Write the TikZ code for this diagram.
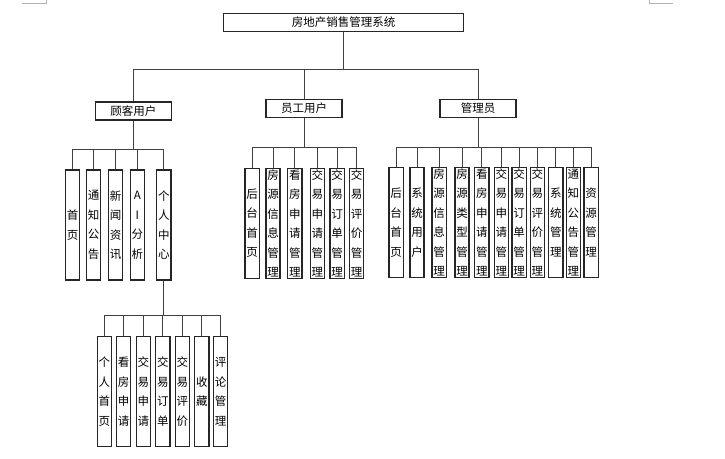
\documentclass[tikz,border=0pt]{standalone}
\usepackage{fontspec}
\setmainfont{Noto Sans CJK SC}
\usetikzlibrary{positioning}
\tikzset{
    base/.style = {
        draw=black!85, line width=1.3pt, inner sep=0pt,
        font=\fontsize{11.5}{19.5}\selectfont
    },
    % Boxes
    titlebox/.style = {base, minimum width=240pt, minimum height=18pt},
    rolebox/.style  = {base, minimum width=76pt, minimum height=18pt},
    leaf/.style     = {base, text width=12pt, align=center, minimum width=14.2pt, minimum height=110pt},
    % Lines
    link/.style     = {draw=black!75, line width=0.9pt},
    cropmark/.style = {draw=black!30, line width=0.6pt}
}
\begin{document}
\begin{tikzpicture}[x=1pt, y=-1pt]
    \useasboundingbox (0,0) rectangle (725,458);

    % Page corner marks
    \draw [cropmark] (22,3.3) -- (46,3.3) -- (46,0);
    \draw [cropmark] (649,0) -- (649,3.3) -- (673,3.3);

    % Top and roles
    \node (system) [titlebox] at (343.5,22.5) {房地产销售管理系统};
    \node (customer) [rolebox] at (133.3,111) {顾客用户};
    \node (staff) [rolebox] at (304,108.5) {员工用户};
    \node (admin) [rolebox] at (478,108.5) {管理员};

    % Customer functions
    \node (c_home) [leaf] at (72.5,225) {首\\页};
    \node (c_notice) [leaf, right=5.5pt of c_home] {通\\知\\公\\告};
    \node (c_news) [leaf, right=6.6pt of c_notice] {新\\闻\\资\\讯};
    \node (c_ai) [leaf, right=6.3pt of c_news] {A\\I\\分\\析};
    \node (c_personal) [leaf, right=11pt of c_ai] {个\\人\\中\\心};

    % Personal centre
    \node (p_home) [leaf] at (104.3,391.7) {个\\人\\首\\页};
    \node (p_viewing) [leaf, right=3.7pt of p_home] {看\\房\\申\\请};
    \node (p_apply) [leaf, right=4.3pt of p_viewing] {交\\易\\申\\请};
    \node (p_order) [leaf, right=4pt of p_apply] {交\\易\\订\\单};
    \node (p_review) [leaf, right=4pt of p_order] {交\\易\\评\\价};
    \node (p_fav) [leaf, right=4pt of p_review] {收\\藏};
    \node (p_comment) [leaf, right=3.3pt of p_fav] {评\\论\\管\\理};

    % Staff functions
    \node (s_home) [leaf] at (252.2,223.4) {后\\台\\首\\页};
    \node (s_house) [leaf, right=5.3pt of s_home] {房\\源\\信\\息\\管\\理};
    \node (s_viewing) [leaf, right=6.3pt of s_house] {看\\房\\申\\请\\管\\理};
    \node (s_apply) [leaf, right=7pt of s_viewing] {交\\易\\申\\请\\管\\理};
    \node (s_order) [leaf, right=4.3pt of s_apply] {交\\易\\订\\单\\管\\理};
    \node (s_review) [leaf, right=4pt of s_order] {交\\易\\评\\价\\管\\理};

    % Admin functions
    \node (a_home) [leaf] at (396.2,222.5) {后\\台\\首\\页};
    \node (a_users) [leaf, right=5.3pt of a_home] {系\\统\\用\\户};
    \node (a_house) [leaf, right=6.7pt of a_users] {房\\源\\信\\息\\管\\理};
    \node (a_type) [leaf, right=7.3pt of a_house] {房\\源\\类\\型\\管\\理};
    \node (a_viewing) [leaf, right=4.3pt of a_type] {看\\房\\申\\请\\管\\理};
    \node (a_apply) [leaf, right=4pt of a_viewing] {交\\易\\申\\请\\管\\理};
    \node (a_order) [leaf, right=2.3pt of a_apply] {交\\易\\订\\单\\管\\理};
    \node (a_review) [leaf, right=2.7pt of a_order] {交\\易\\评\\价\\管\\理};
    \node (a_system) [leaf, right=3pt of a_review] {系\\统\\管\\理};
    \node (a_notice) [leaf, right=2pt of a_system] {通\\知\\公\\告\\管\\理};
    \node (a_resource) [leaf, right=2.4pt of a_notice] {资\\源\\管\\理};

    % --- Connections ---
    \coordinate (b_top) at (343.5,69);
    \coordinate (b_cust) at (customer |- 0,149.3);
    \coordinate (b_staff) at (staff |- 0,147.3);
    \coordinate (b_admin) at (admin |- 0,147.3);
    \coordinate (b_personal) at (c_personal |- 0,315.7);

    % System to roles
    \draw [link] (system) -- (b_top);
    \draw [link] (b_top) -| (customer);
    \draw [link] (b_top) -| (staff);
    \draw [link] (b_top) -| (admin);

    % Customer
    \draw [link] (customer) -- (b_cust);
    \draw [link] (b_cust) -| (c_home);
    \draw [link] (b_cust) -| (c_notice);
    \draw [link] (b_cust) -| (c_news);
    \draw [link] (b_cust) -| (c_ai);
    \draw [link] (b_cust) -| (c_personal);

    % Personal centre
    \draw [link] (c_personal) -- (b_personal);
    \draw [link] (b_personal) -| (p_home);
    \draw [link] (b_personal) -| (p_viewing);
    \draw [link] (b_personal) -| (p_apply);
    \draw [link] (b_personal) -| (p_order);
    \draw [link] (b_personal) -| (p_review);
    \draw [link] (b_personal) -| (p_fav);
    \draw [link] (b_personal) -| (p_comment);

    % Staff
    \draw [link] (staff) -- (b_staff);
    \draw [link] (b_staff) -| (s_home);
    \draw [link] (b_staff) -| (s_house);
    \draw [link] (b_staff) -| (s_viewing);
    \draw [link] (b_staff) -| (s_apply);
    \draw [link] (b_staff) -| (s_order);
    \draw [link] (b_staff) -| (s_review);

    % Admin
    \draw [link] (admin) -- (b_admin);
    \draw [link] (b_admin) -| (a_home);
    \draw [link] (b_admin) -| (a_users);
    \draw [link] (b_admin) -| (a_house);
    \draw [link] (b_admin) -| (a_type);
    \draw [link] (b_admin) -| (a_viewing);
    \draw [link] (b_admin) -| (a_apply);
    \draw [link] (b_admin) -| (a_order);
    \draw [link] (b_admin) -| (a_review);
    \draw [link] (b_admin) -| (a_system);
    \draw [link] (b_admin) -| (a_notice);
    \draw [link] (b_admin) -| (a_resource);

\end{tikzpicture}
\end{document}
